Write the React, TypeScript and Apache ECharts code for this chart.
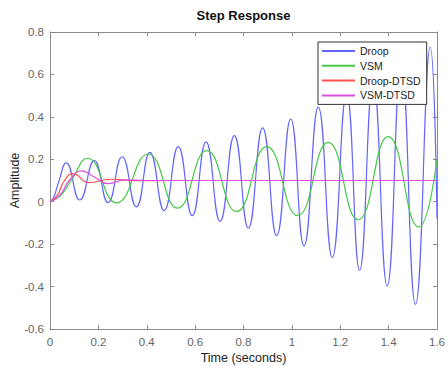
import React, { useEffect, useRef } from "react";
import * as echarts from "echarts";

const seriesNames = ["Droop", "VSM", "Droop-DTSD", "VSM-DTSD"];
const seriesColors = ["#6464ff", "#46c846", "#ff5050", "#e050e0"];

// [time (s), amplitude] (peaks, troughs and turning points)
const droop: number[][] = [
  [0, 0], [0.015, 0.02], [0.035, 0.09], [0.067, 0.183], [0.123, 0.008],
  [0.183, 0.194], [0.24, -0.004], [0.298, 0.212], [0.357, -0.024],
  [0.413, 0.233], [0.472, -0.042], [0.53, 0.26], [0.588, -0.066],
  [0.645, 0.282], [0.703, -0.093], [0.762, 0.312], [0.82, -0.124],
  [0.879, 0.348], [0.937, -0.16], [0.995, 0.39], [1.05, -0.208],
  [1.109, 0.446], [1.167, -0.263], [1.226, 0.51], [1.28, -0.323],
  [1.336, 0.575], [1.394, -0.397], [1.452, 0.645], [1.511, -0.484],
  [1.572, 0.728], [1.6, -0.08],
];
const vsm: number[][] = [
  [0, 0], [0.04, 0.025], [0.088, 0.1], [0.155, 0.205], [0.275, -0.005],
  [0.406, 0.225], [0.527, -0.03], [0.648, 0.241], [0.771, -0.046],
  [0.896, 0.26], [1.024, -0.066], [1.15, 0.28], [1.274, -0.085],
  [1.398, 0.307], [1.524, -0.12], [1.6, 0.2],
];
const droopDtsd: number[][] = [
  [0, 0], [0.03, 0.03], [0.06, 0.1], [0.095, 0.132], [0.16, 0.09],
  [0.25, 0.106], [0.35, 0.099], [0.5, 0.1], [1.6, 0.1],
];
const vsmDtsd: number[][] = [
  [0, 0], [0.04, 0.03], [0.08, 0.1], [0.13, 0.145], [0.185, 0.115],
  [0.24, 0.085], [0.31, 0.103], [0.4, 0.1], [1.6, 0.1],
];

const xMin = 0, xMax = 1.6, xStep = 0.2;
const yMin = -0.6, yMax = 0.8, yStep = 0.2;

const FONT = "'Liberation Sans', Arial, Helvetica, sans-serif";

export default function App() {
  const ref = useRef<HTMLDivElement>(null);
  useEffect(() => {
    if (!ref.current) return;
    const chart = echarts.init(ref.current, undefined, { renderer: "svg" });
    const axisLine = { show: true, onZero: false, lineStyle: { color: "#8a8a8a", width: 1 } };
    const tick = { show: true, inside: true, length: 4, lineStyle: { color: "#8a8a8a" } };
    const datas = [droop, vsm, droopDtsd, vsmDtsd];
    chart.setOption({
      animation: false,
      textStyle: { fontFamily: FONT },
      grid: {
        left: 50,
        right: 10,
        top: 32,
        bottom: 37,
        containLabel: false,
        outerBoundsMode: "none",
      },
      graphic: [
        {
          type: "text",
          x: 243.5,
          y: 15,
          style: {
            text: "Step Response",
            font: `bold 13px ${FONT}`,
            fill: "#111",
            textAlign: "center",
            textVerticalAlign: "middle",
          },
        },
      ],
      legend: {
        data: seriesNames,
        orient: "vertical",
        left: 318,
        top: 42,
        padding: [3, 6, 3, 4],
        itemGap: 2.8,
        itemWidth: 33,
        itemHeight: 2,
        icon: "rect",
        borderColor: "#333",
        borderWidth: 1,
        borderRadius: 0,
        backgroundColor: "#ffffff",
        textStyle: { fontSize: 10.5, color: "#222", fontFamily: FONT, lineHeight: 12 },
      },
      xAxis: [
        {
          type: "value",
          min: xMin,
          max: xMax,
          interval: xStep,
          position: "bottom",
          name: "Time (seconds)",
          nameLocation: "middle",
          nameGap: 22,
          nameMoveOverlap: false,
          nameTextStyle: { fontSize: 12.5, color: "#222", fontFamily: FONT },
          axisLine,
          axisTick: tick,
          axisLabel: { fontSize: 11.5, color: "#666", margin: 7, fontFamily: FONT },
          splitLine: { show: false },
        },
        {
          type: "value",
          min: xMin,
          max: xMax,
          interval: xStep,
          position: "top",
          axisLine,
          axisTick: tick,
          axisLabel: { show: false },
          splitLine: { show: false },
        },
      ],
      yAxis: [
        {
          type: "value",
          min: yMin,
          max: yMax,
          interval: yStep,
          position: "left",
          name: "Amplitude",
          nameLocation: "middle",
          nameGap: 29,
          nameMoveOverlap: false,
          nameTextStyle: { fontSize: 12.5, color: "#222", fontFamily: FONT },
          axisLine,
          axisTick: tick,
          axisLabel: { fontSize: 11.5, color: "#666", margin: 6, fontFamily: FONT },
          splitLine: { show: false },
        },
        {
          type: "value",
          min: yMin,
          max: yMax,
          interval: yStep,
          position: "right",
          axisLine,
          axisTick: tick,
          axisLabel: { show: false },
          splitLine: { show: false },
        },
      ],
      series: seriesNames.map((name, i) => ({
        name,
        type: "line",
        data: datas[i],
        smooth: 0.5,
        symbol: "none",
        showSymbol: false,
        color: seriesColors[i],
        lineStyle: { color: seriesColors[i], width: 1.2 },
        xAxisIndex: 0,
        yAxisIndex: 0,
        z: 2 + i,
      })),
    });
    return () => chart.dispose();
  }, []);
  return (
    <div
      ref={ref}
      style={{ position: "fixed", left: 0, top: 0, width: 447, height: 366, background: "#fff" }}
    />
  );
}
